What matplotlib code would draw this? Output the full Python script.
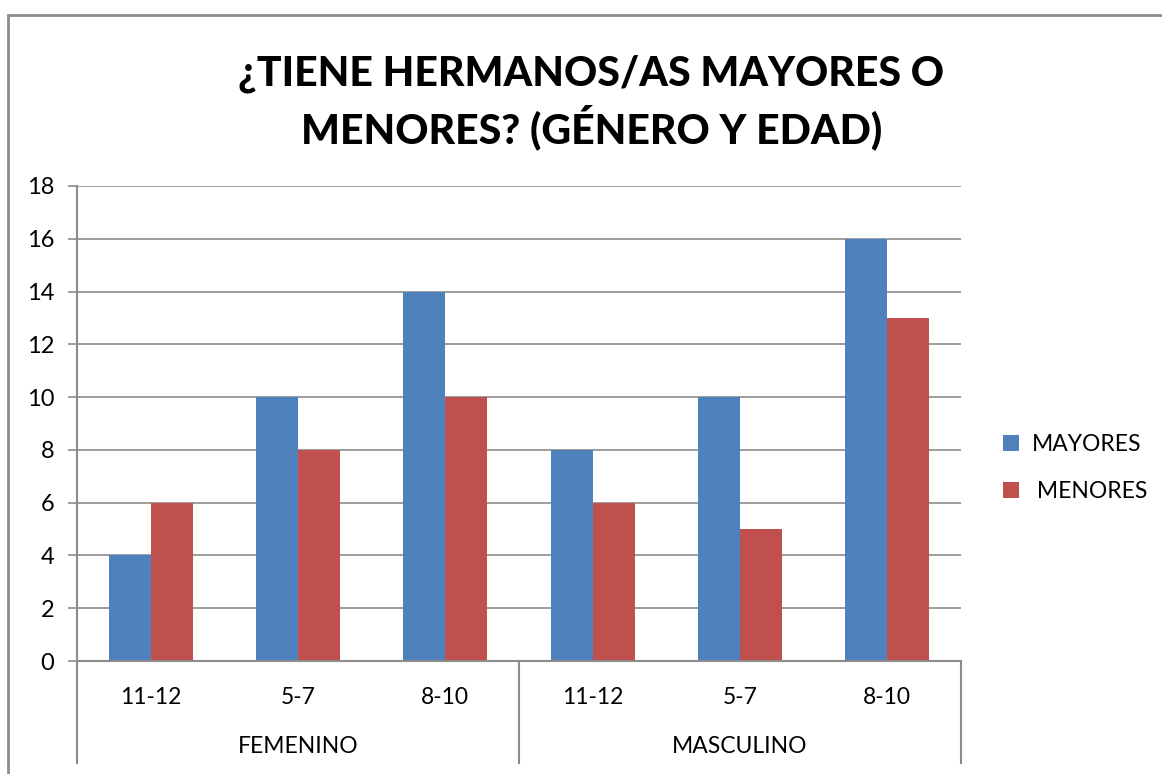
import matplotlib.pyplot as plt
import matplotlib.patches as patches
import numpy as np

plt.rcParams['font.family'] = ['Lato', 'DejaVu Sans']

edades = ['11-12', '5-7', '8-10', '11-12', '5-7', '8-10']
generos = ['FEMENINO', 'MASCULINO']
mayores = [4, 10, 14, 8, 10, 16]
menores = [6, 8, 10, 6, 5, 13]

azul = '#4F81BD'
rojo = '#C0504D'
gris = '#8C8C8C'

fig = plt.figure(figsize=(11.62, 7.74), dpi=100)
ax = fig.add_axes([77/1162, 1-661/774, (961-77)/1162, (661-186)/774])

x = np.arange(len(edades))
w = 0.285
ax.bar(x - w/2, mayores, w, color=azul, label='MAYORES')
ax.bar(x + w/2, menores, w, color=rojo, label=' MENORES')

ax.set_xlim(-0.5, len(edades) - 0.5)
ax.set_ylim(0, 18)
ax.set_yticks(range(0, 19, 2))
ax.yaxis.grid(True, color=gris, linewidth=1.2)
ax.set_axisbelow(True)
ax.tick_params(axis='y', length=6.5, width=1.2, color=gris, pad=10, labelsize=17)
ax.set_xticks([])
for s in ['top', 'right']:
    ax.spines[s].set_visible(False)
for s in ['left', 'bottom']:
    ax.spines[s].set_color(gris)
    ax.spines[s].set_linewidth(1.5)

trans = ax.get_xaxis_transform()
for i, e in enumerate(edades):
    ax.text(i, -0.076, e, transform=trans, ha='center', va='center', fontsize=16.5)
for g, nombre in enumerate(generos):
    ax.text(g*3 + 1, -0.181, nombre, transform=trans, ha='center', va='center', fontsize=16.5)
for xs in [-0.5, 2.5, 5.5]:
    ax.plot([xs, xs], [0, -0.215], transform=trans, color=gris, linewidth=1.5, clip_on=False)

leg = ax.legend(loc='center left', bbox_to_anchor=(1.024, 0.406), frameon=False,
                fontsize=16.5, handlelength=0.7, handleheight=0.7, labelspacing=1.15,
                handletextpad=0.55)

fig.text(0.509, 0.868, '¿TIENE HERMANOS/AS MAYORES O\nMENORES? (GÉNERO Y EDAD)',
         ha='center', va='center', fontsize=29.5, fontweight='black', linespacing=1.3)

fig.patches.append(patches.Rectangle((8/1162, -0.1), 1.2, 1 - 15/774 + 0.1,
                                     transform=fig.transFigure, fill=False,
                                     edgecolor=gris, linewidth=2))

fig.savefig('out.png', dpi=100)
